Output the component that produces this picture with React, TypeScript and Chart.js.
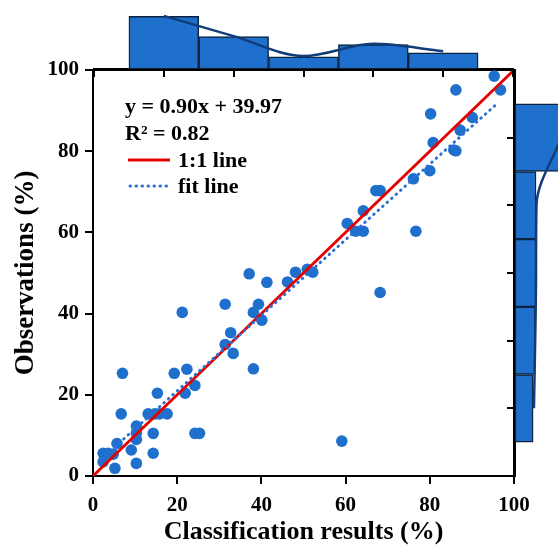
import React, { useEffect, useRef } from "react";
import { Chart, registerables } from "chart.js";
Chart.register(...registerables);

const FONT = "'Liberation Serif', 'Times New Roman', Times, serif";

// Scatter data
const classification = [2.4, 3.6, 4.8, 2.4, 5.2, 5.7, 9.1, 10.3, 14.3, 10.3, 10.3, 10.3, 14.3, 24.2, 25.3, 6.7, 13.1, 14.7, 15.8, 17.6, 15.3, 21.9, 24.2, 7.0, 19.3, 22.3, 38.1, 33.3, 31.4, 32.7, 40.1, 21.2, 38.1, 31.4, 39.3, 37.1, 41.3, 46.2, 48.1, 50.9, 52.2, 68.2, 60.4, 62.4, 64.2, 64.2, 67.2, 68.2, 76.7, 76.1, 80.0, 80.8, 85.7, 86.2, 87.2, 90.1, 80.2, 86.2, 95.3, 96.8, 59.1];
const observations = [5.6, 5.6, 5.4, 3.5, 1.9, 8.0, 6.4, 3.1, 5.6, 9.0, 10.5, 12.3, 10.5, 10.5, 10.5, 15.3, 15.3, 15.3, 15.3, 15.3, 20.4, 20.4, 22.3, 25.3, 25.3, 26.3, 26.4, 30.2, 32.4, 35.3, 38.4, 40.3, 40.3, 42.3, 42.3, 49.8, 47.7, 47.8, 50.2, 50.9, 50.2, 45.2, 62.2, 60.3, 60.3, 65.3, 70.3, 70.3, 60.3, 73.2, 75.2, 82.1, 80.3, 80.1, 85.2, 88.3, 89.2, 95.1, 98.5, 95.1, 8.6];

// Reference lines
const oneToOneX = [0, 100];
const oneToOneY = [0, 100];
const fitLineX = [2, 96.3];
const fitLineY = [4.2, 92];

// Axis ticks
const axisMin = 0;
const axisMax = 100;
const axisStep = 20;

// Annotation texts
const equationText = "y = 0.90x + 39.97";
const r2Text = "R\u00B2 = 0.82";
const legendLabels = ["1:1 line", "fit line"];
const xTitle = "Classification results (%)";
const yTitle = "Observations (%)";

// Top marginal histogram
const topBins = [1, 2, 3, 4, 5];
const topCounts = [13, 8, 3, 6, 4];
const topKde = [13.1, 8.1, 3.2, 6.2, 4.4];

// Right marginal histogram
const rightBins = [1, 2, 3, 4, 5];
const rightCounts = [15, 5, 5, 4.8, 4.3];
const rightKde = [11, 5.1, 5.0, 4.8, 4.5];

const BLUE = "#1f70cc";
const EDGE = "#0b2240";
const KDE = "#123c78";
const RED = "#e60000";
const DOT = "#2b6fd6";

const framePlugin = {
  id: "frame",
  beforeDatasetsDraw(chart: any) {
    const { ctx, chartArea: a } = chart;
    ctx.save();
    ctx.strokeStyle = "#000";
    ctx.lineWidth = 2;
    ctx.strokeRect(a.left, a.top, a.right - a.left, a.bottom - a.top);
    ctx.restore();
  },
};

const annotationPlugin = {
  id: "annot",
  afterDatasetsDraw(chart: any) {
    const { ctx } = chart;
    ctx.save();
    ctx.fillStyle = "#000";
    ctx.font = `bold 22px ${FONT}`;
    ctx.textAlign = "left";
    ctx.textBaseline = "alphabetic";
    ctx.fillText(equationText, 125, 113);
    ctx.fillText(r2Text, 125, 140);
    ctx.fillText(legendLabels[0], 178, 167);
    ctx.fillText(legendLabels[1], 178, 193);
    // legend samples
    ctx.strokeStyle = RED;
    ctx.lineWidth = 3;
    ctx.beginPath();
    ctx.moveTo(128, 160);
    ctx.lineTo(170, 160);
    ctx.stroke();
    ctx.strokeStyle = DOT;
    ctx.lineWidth = 3;
    ctx.lineCap = "round";
    ctx.setLineDash([0.5, 5.5]);
    ctx.beginPath();
    ctx.moveTo(130, 186);
    ctx.lineTo(170, 186);
    ctx.stroke();
    ctx.restore();
  },
};

export default function App() {
  const mainRef = useRef<HTMLCanvasElement>(null);
  const topRef = useRef<HTMLCanvasElement>(null);
  const rightRef = useRef<HTMLCanvasElement>(null);

  useEffect(() => {
    const tickFont = { family: FONT, size: 21, weight: "bold" as const };
    const main = new Chart(mainRef.current!, {
      type: "scatter",
      data: {
        datasets: [
          {
            label: "points",
            data: classification.map((x, i) => ({ x, y: observations[i] })),
            backgroundColor: BLUE,
            borderWidth: 0,
            pointRadius: 5.8,
            order: 3,
            clip: false as any,
          },
          {
            type: "line",
            label: legendLabels[0],
            data: oneToOneX.map((x, i) => ({ x, y: oneToOneY[i] })),
            borderColor: RED,
            borderWidth: 2.8,
            pointRadius: 0,
            order: 2,
          } as any,
          {
            type: "line",
            label: legendLabels[1],
            data: fitLineX.map((x, i) => ({ x, y: fitLineY[i] })),
            borderColor: DOT,
            borderWidth: 3,
            borderDash: [0.5, 5.5],
            borderCapStyle: "round",
            pointRadius: 0,
            order: 1,
          } as any,
        ],
      },
      options: {
        animation: false,
        responsive: false,
        maintainAspectRatio: false,
        layout: { padding: { left: 0, top: 70, right: 44, bottom: 0 } },
        plugins: { legend: { display: false }, tooltip: { enabled: false } },
        scales: {
          x: {
            type: "linear",
            min: axisMin,
            max: axisMax,
            afterFit: (s: any) => { s.height = 69; },
            ticks: { stepSize: axisStep, font: tickFont, color: "#000", padding: 9, maxRotation: 0 },
            grid: { drawOnChartArea: false, color: "#000", lineWidth: 2, tickLength: 8 },
            border: { color: "#000", width: 2 },
            title: {
              display: true,
              text: xTitle,
              color: "#000",
              font: { family: FONT, size: 26, weight: "bold", lineHeight: 1 },
              padding: 0,
            },
          },
          y: {
            type: "linear",
            min: axisMin,
            max: axisMax,
            afterFit: (s: any) => { s.width = 93; },
            ticks: { stepSize: axisStep, font: tickFont, color: "#000", padding: 6 },
            grid: { drawOnChartArea: false, color: "#000", lineWidth: 2, tickLength: 8 },
            border: { color: "#000", width: 2 },
            title: {
              display: true,
              text: yTitle,
              color: "#000",
              font: { family: FONT, size: 27, weight: "bold", lineHeight: 1 },
              padding: { top: 13, bottom: 0 },
            },
          },
        },
      },
      plugins: [framePlugin, annotationPlugin],
    });

    const top = new Chart(topRef.current!, {
      type: "bar",
      data: {
        datasets: [
          {
            type: "line",
            data: topBins.map((b, i) => ({ x: b, y: topKde[i] })),
            borderColor: KDE,
            borderWidth: 2.5,
            pointRadius: 0,
            cubicInterpolationMode: "monotone",
            order: 0,
          } as any,
          {
            type: "bar",
            data: topBins.map((b, i) => ({ x: b, y: topCounts[i] })),
            backgroundColor: BLUE,
            borderColor: EDGE,
            borderWidth: 1.5,
            borderSkipped: false,
            barPercentage: 1,
            categoryPercentage: 1,
            order: 1,
          } as any,
        ],
      },
      options: {
        animation: false,
        responsive: false,
        maintainAspectRatio: false,
        layout: { padding: { left: 94, right: 45, top: 0, bottom: 0 } },
        plugins: { legend: { display: false }, tooltip: { enabled: false } },
        scales: {
          x: {
            type: "linear",
            min: 0,
            max: 6,
            offset: false,
            afterFit: (s: any) => { s.height = 11; },
            ticks: { display: false, stepSize: 1 },
            grid: { offset: false, drawOnChartArea: false, color: "#000", lineWidth: 2, tickLength: 8 },
            border: { color: "#000", width: 2 },
          } as any,
          y: { display: false, min: 0, max: 17 },
        },
      },
    });

    const right = new Chart(rightRef.current!, {
      type: "bar",
      data: {
        datasets: [
          {
            type: "line",
            indexAxis: "y",
            data: rightBins.map((b, i) => ({ x: rightKde[i], y: b })),
            borderColor: KDE,
            borderWidth: 2.5,
            pointRadius: 0,
            cubicInterpolationMode: "monotone",
            order: 0,
          } as any,
          {
            type: "bar",
            data: rightBins.map((b, i) => ({ x: rightCounts[i], y: b })),
            backgroundColor: BLUE,
            borderColor: EDGE,
            borderWidth: 1.5,
            borderSkipped: false,
            barPercentage: 1,
            categoryPercentage: 1,
            order: 1,
          } as any,
        ],
      },
      options: {
        indexAxis: "y",
        animation: false,
        responsive: false,
        maintainAspectRatio: false,
        layout: { padding: { left: 0, right: 0, top: 70, bottom: 69 } },
        plugins: { legend: { display: false }, tooltip: { enabled: false } },
        scales: {
          y: {
            type: "linear",
            min: 0,
            max: 6,
            reverse: true,
            offset: false,
            afterFit: (s: any) => { s.width = 35; },
            ticks: { display: false, stepSize: 1 },
            grid: { offset: false, drawOnChartArea: false, color: "#000", lineWidth: 2, tickLength: 8 },
            border: { color: "#000", width: 2 },
          } as any,
          x: { display: false, min: 0, max: 63 },
        },
      },
    });

    return () => {
      main.destroy();
      top.destroy();
      right.destroy();
    };
  }, []);

  return (
    <div
      style={{
        position: "fixed",
        left: 0,
        top: 0,
        width: 558,
        height: 545,
        overflow: "hidden",
        background: "#fff",
      }}
    >
      <canvas ref={mainRef} width={558} height={545} style={{ position: "absolute", left: 0, top: 0 }} />
      <canvas ref={topRef} width={558} height={80} style={{ position: "absolute", left: 0, top: 0 }} />
      <canvas ref={rightRef} width={300} height={545} style={{ position: "absolute", left: 480, top: 0 }} />
    </div>
  );
}
